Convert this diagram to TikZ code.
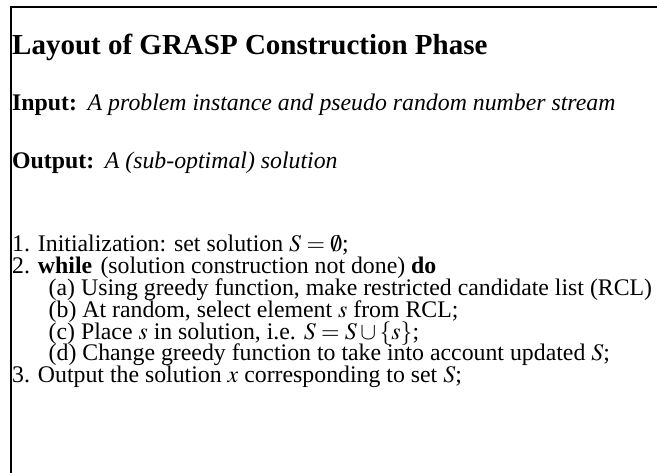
\documentclass[tikz,border=0pt]{standalone}
\usepackage{mathptmx}
\usepackage{fontspec}
\setmainfont{Liberation Serif}
\begin{document}
\begin{tikzpicture}[x=1pt,y=-1pt,
  frame/.style={line width=2pt},
  ttl/.style={anchor=base west,inner sep=0pt,font=\fontsize{29}{34}\selectfont\bfseries},
  txt/.style={anchor=base west,inner sep=0pt,font=\fontsize{23.8}{21.7}\selectfont}]
\useasboundingbox (0,0) rectangle (657,473);
% open frame: top rule and left rule
\coordinate (tr) at (657,7);
\coordinate (tl) at (11,7);
\coordinate (bl) at (11,473);
\draw[frame] (tr) -- (tl) -- (bl);
% heading and specification
\node[ttl] (title) at (12,55) {Layout of GRASP Construction Phase};
\node[txt] (input) at (12,111) {\textbf{Input:}\hspace{0.45em}\textit{A problem instance and pseudo random number stream}};
\node[txt] (output) at (12,169) {\textbf{Output:}\hspace{0.45em}\textit{A (sub-optimal) solution}};
% algorithm steps
\node[txt] (s1) at (12,252) {1. Initialization: set solution $S=\emptyset$;};
\node[txt] (s2) at (12,273.8) {2. \textbf{while}\hspace{0.35em}(solution construction not done) \textbf{do}};
\node[txt] (sa) at (48.5,295.6) {(a) Using greedy function, make restricted candidate list (RCL)};
\node[txt] (sb) at (48.5,317.4) {(b) At random, select element $s$ from RCL;};
\node[txt] (sc) at (48.5,339.2) {(c) Place $s$ in solution, i.e. $S=S\cup\{s\}$;};
\node[txt] (sd) at (48.5,361) {(d) Change greedy function to take into account updated $S$;};
\node[txt] (s3) at (12,382.8) {3. Output the solution $x$ corresponding to set $S$;};
\end{tikzpicture}
\end{document}
